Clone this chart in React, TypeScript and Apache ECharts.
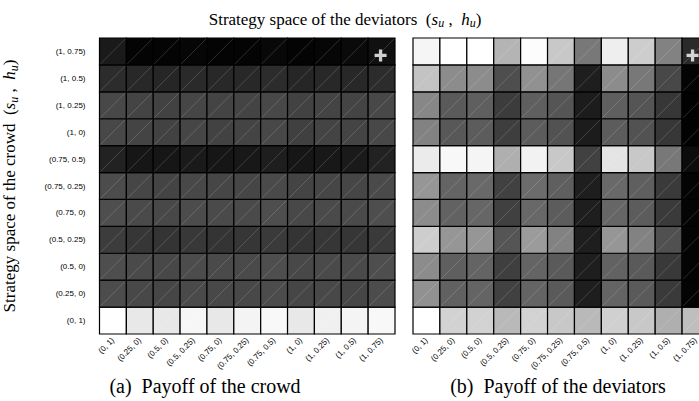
import React, { useEffect, useRef } from "react";
import * as echarts from "echarts";

// Strategies (s, h), used for both axes (x: deviators, y: crowd, bottom to top)
const strategies = [
  "(0, 1)", "(0.25, 0)", "(0.5, 0)", "(0.5, 0.25)", "(0.75, 0)", "(0.75, 0.25)",
  "(0.75, 0.5)", "(1, 0)", "(1, 0.25)", "(1, 0.5)", "(1, 0.75)",
];

// Payoff of the crowd (normalised shade 0..255), one row per crowd strategy (bottom -> top)
const crowdPayoff = [
  [255, 232, 232, 246, 232, 244, 248, 232, 240, 244, 248], // (0, 1)
  [76, 72, 70, 74, 72, 72, 76, 70, 72, 70, 76],           // (0.25, 0)
  [78, 74, 72, 76, 74, 74, 78, 72, 74, 74, 78],           // (0.5, 0)
  [60, 54, 52, 56, 52, 54, 58, 52, 54, 54, 58],           // (0.5, 0.25)
  [78, 74, 72, 76, 74, 74, 78, 72, 74, 74, 78],           // (0.75, 0)
  [76, 70, 68, 72, 70, 70, 74, 68, 70, 70, 74],           // (0.75, 0.25)
  [34, 22, 22, 26, 22, 24, 30, 22, 24, 26, 34],           // (0.75, 0.5)
  [72, 68, 66, 70, 66, 68, 72, 64, 68, 68, 72],           // (1, 0)
  [72, 68, 66, 70, 68, 68, 72, 66, 68, 68, 72],           // (1, 0.25)
  [44, 40, 38, 42, 40, 40, 44, 38, 40, 40, 44],           // (1, 0.5)
  [26, 4, 4, 6, 4, 4, 8, 4, 6, 10, 16],                   // (1, 0.75)
];

// Payoff of the deviators (normalised shade 0..255)
const deviatorPayoff = [
  [255, 210, 210, 185, 210, 200, 185, 208, 200, 175, 190], // (0, 1)
  [145, 97, 100, 65, 100, 90, 30, 100, 90, 58, 4],         // (0.25, 0)
  [140, 95, 100, 63, 100, 90, 30, 98, 90, 57, 4],          // (0.5, 0)
  [205, 150, 150, 85, 155, 130, 30, 150, 130, 80, 4],      // (0.5, 0.25)
  [140, 98, 102, 64, 104, 92, 30, 102, 92, 58, 4],         // (0.75, 0)
  [150, 100, 105, 65, 108, 95, 30, 105, 95, 58, 4],        // (0.75, 0.25)
  [235, 248, 245, 175, 242, 200, 65, 228, 200, 120, 12],   // (0.75, 0.5)
  [130, 88, 92, 62, 92, 82, 28, 92, 82, 55, 2],            // (1, 0)
  [135, 90, 95, 60, 95, 85, 28, 95, 85, 55, 2],            // (1, 0.25)
  [195, 140, 140, 78, 145, 118, 30, 140, 120, 72, 4],      // (1, 0.5)
  [245, 255, 255, 180, 252, 200, 120, 238, 205, 130, 42],  // (1, 0.75)
];

// Equilibrium marker (deviator strategy, crowd strategy)
const marker = ["(1, 0.75)", "(1, 0.75)"];

const titleText = "Strategy space of the deviators";
const yTitleText = "Strategy space of the crowd";
const captionA = "(a)  Payoff of the crowd";
const captionB = "(b)  Payoff of the deviators";

const SERIF = "Liberation Serif";
const SANS = "Liberation Sans";

const toCells = (m: number[][]) => {
  const out: number[][] = [];
  m.forEach((row, y) => row.forEach((v, x) => out.push([x, y, v])));
  return out;
};

const mathRich = {
  n: { fontFamily: SERIF, fontSize: 17, fontWeight: "normal", color: "#000" },
  i: { fontFamily: SERIF, fontSize: 17, fontWeight: "normal", fontStyle: "italic", color: "#000" },
  sub: { fontFamily: SERIF, fontSize: 12, fontWeight: "normal", fontStyle: "italic", color: "#000", padding: [8, 0, 0, 0] },
};
const mathSuffix = "{n|  (}{i|s}{sub|u}{n| ,  }{i|h}{sub|u}{n|)}";

const renderCell = (params: any, api: any) => {
  const c = api.coord([api.value(0), api.value(1)]);
  const s = api.size([1, 1]);
  const w = s[0];
  const h = s[1];
  const x0 = c[0] - w / 2;
  const y0 = c[1] - h / 2;
  return {
    type: "group",
    children: [
      {
        type: "rect",
        shape: { x: x0, y: y0, width: w, height: h },
        style: { fill: api.visual("color"), stroke: "#000", lineWidth: 1.2 },
      },
      {
        type: "line",
        shape: { x1: x0 + 1, y1: y0 + h - 1, x2: x0 + w - 1, y2: y0 + 1 },
        style: { stroke: "rgba(255,255,255,0.28)", lineWidth: 0.6 },
      },
    ],
  };
};

const PLUS = "path://M4,0H7V4H11V7H7V11H4V7H0V4H4Z";

export default function App() {
  const ref = useRef<HTMLDivElement>(null);
  useEffect(() => {
    document.body.style.margin = "0";
    const chart = echarts.init(ref.current!, undefined, { renderer: "svg" });
    const axisLabelBase = { fontFamily: SANS, fontSize: 8, color: "#000" };
    const captionStyle = { fontFamily: SERIF, fontSize: 20, fontWeight: "normal", color: "#000" };
    chart.setOption({
      animation: false,
      backgroundColor: "#fff",
      title: [
        {
          text: `{n|${titleText}}${mathSuffix}`,
          left: 340,
          top: 4,
          textAlign: "center",
          textStyle: { fontWeight: "normal", rich: mathRich },
        },
        { text: captionA, left: 200, top: 371, textAlign: "center", textStyle: captionStyle },
        { text: captionB, left: 553, top: 371, textAlign: "center", textStyle: captionStyle },
      ],
      grid: [
        { left: 99, top: 38, width: 296, height: 296 },
        { left: 413, top: 38, width: 296, height: 296 },
      ],
      xAxis: [0, 1].map((i) => ({
        type: "category",
        gridIndex: i,
        data: strategies,
        axisLine: { show: false },
        axisTick: { show: false },
        splitLine: { show: false },
        axisLabel: { ...axisLabelBase, rotate: 45, interval: 0, margin: 5 },
      })),
      yAxis: [
        {
          type: "category",
          gridIndex: 0,
          data: strategies,
          axisLine: { show: false },
          axisTick: { show: false },
          splitLine: { show: false },
          axisLabel: { ...axisLabelBase, interval: 0, margin: 14 },
          name: `{n|${yTitleText}}${mathSuffix}`,
          nameLocation: "middle",
          nameRotate: 90,
          nameGap: 80,
          nameTextStyle: { fontWeight: "normal", rich: mathRich },
        },
        {
          type: "category",
          gridIndex: 1,
          data: strategies,
          axisLine: { show: false },
          axisTick: { show: false },
          splitLine: { show: false },
          axisLabel: { show: false },
        },
      ],
      visualMap: [0, 1].map((i) => ({
        type: "continuous",
        show: false,
        min: 0,
        max: 255,
        dimension: 2,
        seriesIndex: i,
        inRange: { color: ["#000000", "#ffffff"] },
      })),
      series: [
        {
          type: "custom",
          xAxisIndex: 0,
          yAxisIndex: 0,
          renderItem: renderCell,
          data: toCells(crowdPayoff),
          encode: { x: 0, y: 1 },
        },
        {
          type: "custom",
          xAxisIndex: 1,
          yAxisIndex: 1,
          renderItem: renderCell,
          data: toCells(deviatorPayoff),
          encode: { x: 0, y: 1 },
        },
        {
          type: "scatter",
          xAxisIndex: 0,
          yAxisIndex: 0,
          symbol: PLUS,
          symbolSize: 12,
          symbolOffset: [-1, 4],
          itemStyle: { color: "#fff" },
          data: [marker],
          z: 5,
        },
        {
          type: "scatter",
          xAxisIndex: 1,
          yAxisIndex: 1,
          symbol: PLUS,
          symbolSize: 12,
          symbolOffset: [-3, 4],
          itemStyle: { color: "#fff" },
          data: [marker],
          z: 5,
        },
      ],
    });
    return () => chart.dispose();
  }, []);
  return (
    <div style={{ width: 699, height: 401, overflow: "hidden", position: "relative" }}>
      <div ref={ref} style={{ width: 712, height: 401 }} />
    </div>
  );
}
